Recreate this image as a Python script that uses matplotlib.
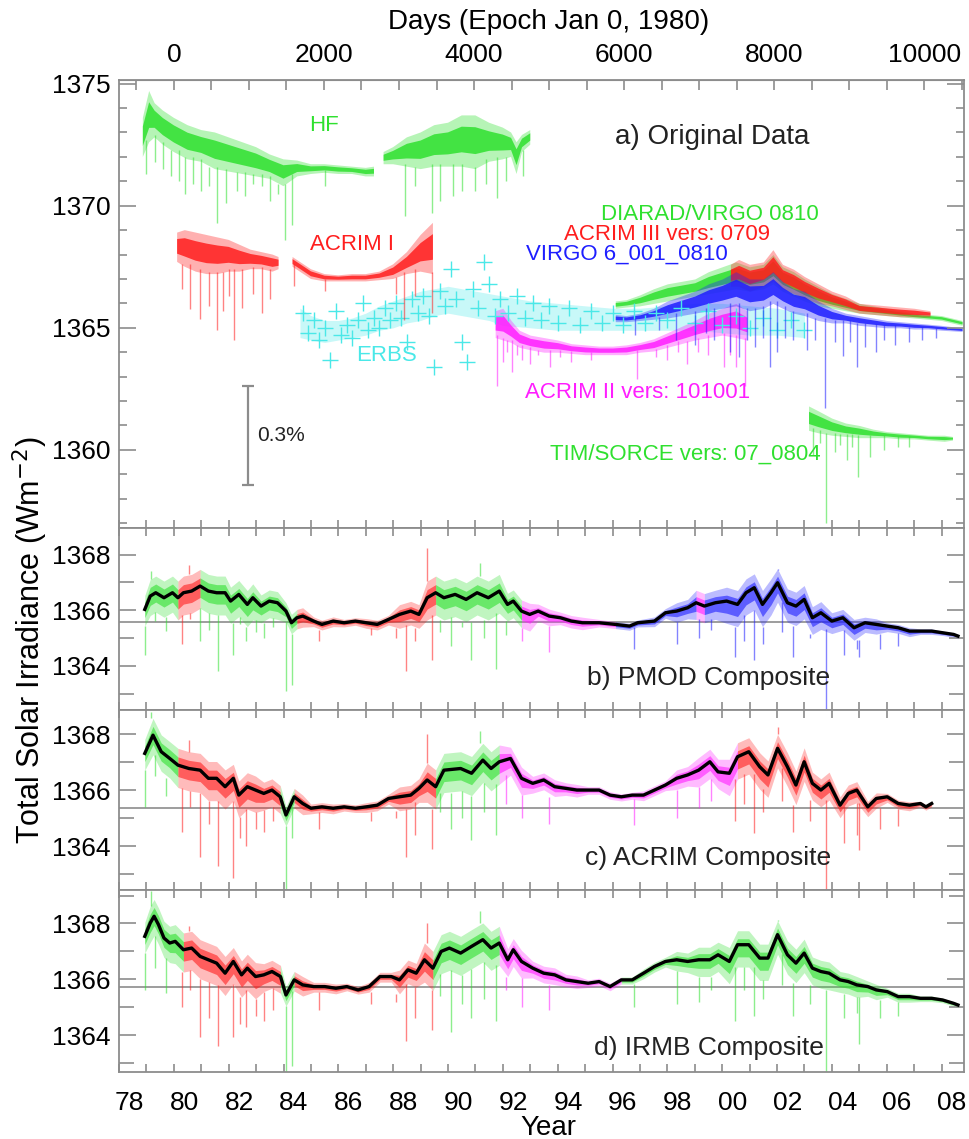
import numpy as np
import matplotlib
matplotlib.use("Agg")
import matplotlib.pyplot as plt
from matplotlib.ticker import MultipleLocator, FixedLocator

plt.rcParams['font.family'] = ['Liberation Sans', 'DejaVu Sans']

GREEN = '#2fe02f'
RED = '#ff1e1e'
BLUE = '#1e1eff'
MAGENTA = '#ff1eff'
CYAN = '#4ae8e8'
GRAY = '#8c8c8c'

# ---------------- panel a: original records (year, lower edge, upper edge) ----------------
hf_years = [1978.87, 1979.1, 1979.3, 1979.6, 1980.0, 1980.5, 1981.0, 1981.5, 1982.0, 1982.5,
            1983.0, 1983.5, 1984.0, 1984.5, 1985.0, 1985.5, 1986.0, 1986.5, 1987.0, 1987.3,
            1987.45,
            1987.65, 1988.0, 1988.5, 1989.0, 1989.5, 1990.0, 1990.5, 1991.0, 1991.5, 1992.0,
            1992.3, 1992.5, 1992.7, 1993.0]
hf_lo = [1372.0, 1372.6, 1372.8, 1372.5, 1372.2, 1371.9, 1371.8, 1371.5, 1371.4, 1371.3,
         1371.2, 1371.1, 1370.8, 1371.2, 1371.3, 1371.35, 1371.3, 1371.3, 1371.2, 1371.2,
         np.nan,
         1371.7, 1371.7, 1371.6, 1371.5, 1371.6, 1371.6, 1371.6, 1371.5, 1371.8, 1371.9,
         1372.0, 1371.3, 1372.2, 1372.5]
hf_hi = [1373.6, 1374.7, 1374.2, 1373.9, 1373.6, 1373.3, 1373.1, 1373.0, 1372.8, 1372.6,
         1372.4, 1372.1, 1371.9, 1371.85, 1371.7, 1371.7, 1371.65, 1371.6, 1371.55, 1371.6,
         np.nan,
         1372.2, 1372.4, 1372.8, 1373.0, 1373.3, 1373.4, 1373.7, 1373.7, 1373.4, 1373.2,
         1373.0, 1372.6, 1372.9, 1373.1]
hf_dip_years = [1979.0, 1979.3, 1979.6, 1979.9, 1980.2, 1980.4, 1980.7, 1981.0, 1981.3,
                1981.57, 1981.9, 1982.3, 1982.6, 1982.9, 1983.2, 1983.5, 1983.8, 1984.07,
                1984.3, 1985.5, 1988.44, 1988.8, 1989.41, 1989.7, 1990.2, 1990.5, 1991.0,
                1991.4, 1991.78, 1992.1, 1992.75]
hf_dip_vals = [1371.3, 1371.8, 1371.5, 1371.2, 1371.0, 1370.5, 1370.9, 1370.6, 1370.8,
               1369.3, 1370.1, 1370.6, 1370.4, 1370.9, 1370.8, 1370.2, 1370.5, 1368.6,
               1369.2, 1370.8, 1369.56, 1370.8, 1369.7, 1370.2, 1370.4, 1370.6, 1370.6,
               1370.9, 1370.3, 1371.0, 1371.2]

acrim1_years = [1980.12, 1980.4, 1980.8, 1981.2, 1981.6, 1982.0, 1982.4, 1982.8, 1983.2,
                1983.6, 1983.82, 1984.0,
                1984.33, 1984.6, 1985.0, 1985.5, 1986.0, 1986.5, 1987.0, 1987.5, 1988.0,
                1988.5, 1989.0, 1989.45]
acrim1_lo = [1367.7, 1367.5, 1367.3, 1367.2, 1367.2, 1367.3, 1367.3, 1367.4, 1367.4,
             1367.3, 1367.4, np.nan,
             1367.5, 1367.3, 1367.0, 1366.9, 1366.9, 1366.9, 1366.9, 1366.95, 1367.0,
             1367.2, 1367.3, 1367.2]
acrim1_hi = [1368.9, 1369.0, 1368.9, 1368.8, 1368.7, 1368.6, 1368.4, 1368.2, 1368.1,
             1368.0, 1367.9, np.nan,
             1367.9, 1367.7, 1367.4, 1367.2, 1367.15, 1367.2, 1367.2, 1367.3, 1367.6,
             1368.1, 1368.8, 1369.3]
acrim1_dip_years = [1980.3, 1980.6, 1980.97, 1981.3, 1981.57, 1981.8, 1982.0, 1982.18,
                    1982.5, 1982.9, 1983.2, 1983.5, 1984.4, 1985.5, 1988.1, 1988.4, 1988.8,
                    1989.4]
acrim1_dip_vals = [1366.6, 1365.75, 1365.35, 1365.9, 1364.9, 1365.7, 1366.3, 1364.5,
                   1365.8, 1366.4, 1365.6, 1366.2, 1366.7, 1366.5, 1366.4, 1365.3, 1366.3,
                   1365.6]

erbs_years = [1984.7, 1984.9, 1985.1, 1985.3, 1985.5, 1985.7, 1985.9, 1986.1, 1986.3, 1986.5,
              1986.7, 1986.9, 1987.1, 1987.3, 1987.5, 1987.7, 1987.9, 1988.1, 1988.3, 1988.5,
              1988.7, 1988.9, 1989.1, 1989.3, 1989.5, 1989.7, 1989.9, 1990.1, 1990.3, 1990.5,
              1990.7, 1990.9, 1991.1, 1991.3, 1991.5, 1991.7, 1991.9, 1992.2, 1992.5, 1992.8,
              1993.1, 1993.4, 1993.7, 1994.0, 1994.4, 1994.8, 1995.2, 1995.6, 1996.0, 1996.4,
              1996.8, 1997.2, 1997.6, 1998.0, 1998.5, 1999.0, 1999.5, 2000.0, 2000.5, 2001.0,
              2001.5, 2002.0, 2002.5, 2003.0]
erbs_vals = [1365.6, 1364.8, 1365.3, 1364.5, 1365.0, 1363.7, 1365.7, 1364.7, 1365.1, 1364.6,
             1365.3, 1366.0, 1364.9, 1365.4, 1365.0, 1365.8, 1365.3, 1366.0, 1365.4, 1364.4,
             1366.2, 1365.6, 1366.3, 1365.5, 1363.4, 1366.5, 1365.9, 1367.4, 1366.2, 1364.4,
             1363.6, 1366.6, 1365.8, 1367.7, 1366.8, 1365.5, 1366.2, 1365.6, 1366.3, 1365.4,
             1366.0, 1365.3, 1365.9, 1365.2, 1365.8, 1365.1, 1365.7, 1365.2, 1365.6, 1365.1,
             1365.7, 1365.2, 1365.6, 1365.3, 1365.8, 1365.2, 1365.7, 1365.1, 1365.5, 1365.0,
             1365.4, 1364.9, 1365.3, 1364.9]
erbs_band_years = [1984.6, 1985.0, 1985.5, 1986.0, 1986.5, 1987.0, 1987.5, 1988.0, 1988.5,
                   1989.0, 1989.5, 1990.0, 1990.5, 1991.0, 1991.5, 1992.0, 1993.0, 1994.0,
                   1995.0, 1996.0, 1997.0, 1998.0, 1999.0, 2000.0, 2001.0, 2002.0, 2003.0]
erbs_lo = [1364.6, 1364.5, 1364.4, 1364.5, 1364.6, 1364.7, 1364.9, 1365.0, 1365.2,
           1365.3, 1365.5, 1365.6, 1365.5, 1365.4, 1365.3, 1365.1, 1365.0, 1364.9,
           1364.9, 1364.9, 1364.9, 1364.9, 1364.9, 1364.8, 1364.7, 1364.7, 1364.6]
erbs_hi = [1365.8, 1365.5, 1365.3, 1365.3, 1365.4, 1365.6, 1365.9, 1366.1, 1366.3,
           1366.5, 1366.6, 1366.7, 1366.6, 1366.5, 1366.4, 1366.3, 1366.1, 1366.0,
           1365.9, 1365.8, 1365.8, 1365.9, 1366.0, 1366.0, 1365.9, 1365.8, 1365.6]

acrim2_years = [1991.72, 1992.0, 1992.3, 1992.6, 1993.0, 1993.5, 1994.0, 1994.5, 1995.0,
                1995.5, 1996.0, 1996.5, 1997.0, 1997.5, 1998.0, 1998.5, 1999.0, 1999.5,
                2000.0, 2000.5, 2000.9]
acrim2_lo = [1364.6, 1364.5, 1364.4, 1364.2, 1364.1, 1364.0, 1364.0, 1363.95, 1363.9,
             1363.9, 1363.9, 1363.9, 1364.0, 1364.05, 1364.2, 1364.35, 1364.5, 1364.6,
             1364.7, 1364.6, 1364.5]
acrim2_hi = [1365.7, 1365.8, 1365.3, 1364.9, 1364.7, 1364.6, 1364.5, 1364.35, 1364.3,
             1364.25, 1364.25, 1364.3, 1364.4, 1364.55, 1364.8, 1365.05, 1365.3, 1365.6,
             1365.8, 1366.0, 1365.7]
acrim2_dip_years = [1991.78, 1992.0, 1992.15, 1992.33, 1992.5, 1992.7, 1993.0, 1993.3,
                    1993.73, 1994.1, 1994.5, 1995.2, 1996.89, 1997.6, 1998.0, 1998.4,
                    1998.7, 1999.1, 1999.5, 2000.05, 2000.3, 2000.5, 2000.85]
acrim2_dip_vals = [1362.6, 1363.6, 1364.0, 1363.2, 1363.9, 1363.7, 1363.5, 1363.9,
                   1363.4, 1363.8, 1363.6, 1363.7, 1362.9, 1363.8, 1363.7, 1364.0,
                   1363.5, 1364.0, 1363.9, 1363.4, 1363.9, 1363.4, 1362.6]

virgo_years = [1996.1, 1996.5, 1997.0, 1997.5, 1998.0, 1998.5, 1999.0, 1999.5, 2000.0,
               2000.5, 2001.0, 2001.5, 2001.85, 2002.2, 2002.6, 2003.0, 2003.5, 2004.0,
               2004.5, 2005.0, 2005.5, 2006.0, 2006.5, 2007.0, 2007.5, 2008.0, 2008.75]
virgo_lo = [1365.25, 1365.25, 1365.3, 1365.35, 1365.4, 1365.5, 1365.6, 1365.7, 1365.8,
            1365.9, 1365.7, 1365.8, 1366.0, 1365.8, 1365.6, 1365.5, 1365.3, 1365.2,
            1365.2, 1365.1, 1365.05, 1365.0, 1365.0, 1364.95, 1364.95, 1364.9, 1364.85]
virgo_hi = [1365.55, 1365.5, 1365.6, 1365.8, 1366.1, 1366.3, 1366.5, 1366.8, 1367.0,
            1367.3, 1367.0, 1367.0, 1367.3, 1366.9, 1366.6, 1366.5, 1366.1, 1365.8,
            1365.6, 1365.5, 1365.4, 1365.3, 1365.25, 1365.2, 1365.15, 1365.1, 1365.0]
virgo_dip_years = [1996.83, 1997.7, 1998.3, 1999.0, 1999.4, 1999.7, 2000.3, 2000.6, 2000.9,
                   2001.2, 2001.5, 2001.75, 2002.0, 2002.3, 2002.6, 2003.1, 2003.4, 2003.75,
                   2004.1, 2004.42, 2004.65, 2004.9, 2005.2, 2005.6, 2005.9, 2006.3, 2006.8,
                   2007.3, 2007.8]
virgo_dip_vals = [1364.7, 1364.9, 1364.5, 1364.3, 1364.8, 1364.5, 1364.0, 1363.8, 1364.5,
                  1364.2, 1364.6, 1363.4, 1364.0, 1364.6, 1364.5, 1364.1, 1364.5, 1361.7,
                  1364.4, 1363.85, 1364.4, 1363.4, 1364.2, 1364.0, 1364.5, 1364.3, 1364.4,
                  1364.5, 1364.6]

diarad_years = virgo_years
diarad_lo = [1365.8, 1365.85, 1365.9, 1366.0, 1366.1, 1366.2, 1366.3, 1366.4, 1366.5,
             1366.6, 1366.5, 1366.6, 1366.8, 1366.5, 1366.3, 1366.1, 1365.9, 1365.8,
             1365.7, 1365.6, 1365.55, 1365.5, 1365.45, 1365.4, 1365.35, 1365.3, 1365.1]
diarad_hi = [1366.1, 1366.15, 1366.35, 1366.6, 1366.8, 1366.9, 1367.0, 1367.3, 1367.5,
             1367.7, 1367.5, 1367.6, 1368.0, 1367.5, 1367.3, 1367.0, 1366.7, 1366.4,
             1366.2, 1366.0, 1365.9, 1365.8, 1365.7, 1365.6, 1365.55, 1365.5, 1365.3]

acrim3_years = [2000.3, 2000.6, 2001.0, 2001.5, 2001.85, 2002.2, 2002.6, 2003.0, 2003.5,
                2004.0, 2004.5, 2005.0, 2005.5, 2006.0, 2006.5, 2007.0, 2007.58]
acrim3_lo = [1366.7, 1366.7, 1366.5, 1366.7, 1366.9, 1366.6, 1366.4, 1366.2, 1366.0,
             1365.9, 1365.75, 1365.6, 1365.55, 1365.5, 1365.45, 1365.45, 1365.45]
acrim3_hi = [1367.6, 1367.8, 1367.6, 1367.7, 1368.2, 1367.6, 1367.4, 1367.1, 1366.8,
             1366.5, 1366.3, 1366.0, 1365.95, 1365.9, 1365.85, 1365.8, 1365.7]

tim_years = [2003.15, 2003.5, 2004.0, 2004.5, 2005.0, 2005.5, 2006.0, 2006.5, 2007.0,
             2007.5, 2008.1, 2008.4]
tim_lo = [1360.8, 1360.7, 1360.6, 1360.55, 1360.5, 1360.5, 1360.5, 1360.45, 1360.45,
          1360.4, 1360.35, 1360.4]
tim_hi = [1361.8, 1361.6, 1361.3, 1361.1, 1361.0, 1360.85, 1360.75, 1360.7, 1360.65,
          1360.6, 1360.6, 1360.55]
tim_dip_years = [2003.3, 2003.55, 2003.79, 2004.1, 2004.3, 2004.54, 2004.75, 2004.97, 2005.4,
                 2005.9, 2006.4, 2006.8]
tim_dip_vals = [1359.8, 1360.3, 1357.0, 1359.9, 1360.2, 1359.6, 1360.1, 1358.9, 1359.7,
                1360.0, 1360.1, 1360.1]

# ---------------- composites (81-day means) ----------------
pmod_years = [1978.94, 1979.14, 1979.34, 1979.64, 1979.95, 1980.15, 1980.35, 1980.65, 1980.96,
              1981.26, 1981.56, 1981.87, 1982.07, 1982.37, 1982.68, 1982.88, 1983.18, 1983.48,
              1983.78, 1984.09, 1984.29, 1984.49, 1984.70, 1985.10, 1985.40, 1985.81, 1986.21,
              1986.62, 1987.02, 1987.42, 1987.83, 1988.23, 1988.64, 1988.94, 1989.24, 1989.55,
              1989.85, 1990.26, 1990.66, 1991.06, 1991.47, 1991.87, 1992.17, 1992.38, 1992.68,
              1992.98, 1993.29, 1993.69, 1994.10, 1994.50, 1994.90, 1995.51, 1996.11, 1996.62,
              1996.92, 1997.53, 1997.93, 1998.34, 1998.74, 1999.05, 1999.35, 1999.75, 2000.16,
              2000.56, 2000.87, 2001.17, 2001.47, 2001.78, 2002.02, 2002.38, 2002.69, 2002.99,
              2003.29, 2003.60, 2004.00, 2004.40, 2004.81, 2005.21, 2005.62, 2006.02, 2006.42,
              2006.83, 2007.23, 2007.64, 2008.04, 2008.44, 2008.60]
pmod_vals = [1366.03, 1366.51, 1366.63, 1366.45, 1366.63, 1366.45, 1366.63, 1366.69, 1366.87,
             1366.69, 1366.63, 1366.63, 1366.33, 1366.57, 1366.21, 1366.45, 1366.15, 1366.33,
             1366.27, 1365.97, 1365.55, 1365.73, 1365.79, 1365.61, 1365.49, 1365.61, 1365.55,
             1365.61, 1365.55, 1365.49, 1365.67, 1365.85, 1365.97, 1365.85, 1366.45, 1366.63,
             1366.45, 1366.57, 1366.39, 1366.63, 1366.45, 1366.69, 1366.21, 1366.33, 1365.97,
             1365.85, 1365.97, 1365.79, 1365.73, 1365.61, 1365.55, 1365.55, 1365.49, 1365.43,
             1365.55, 1365.61, 1365.91, 1365.97, 1366.09, 1366.27, 1366.15, 1366.27, 1366.33,
             1366.21, 1366.63, 1366.81, 1366.21, 1366.63, 1366.99, 1366.27, 1366.15, 1366.39,
             1365.73, 1365.91, 1365.61, 1365.73, 1365.37, 1365.55, 1365.49, 1365.43, 1365.37,
             1365.25, 1365.25, 1365.25, 1365.19, 1365.13, 1365.07]

acrim_years = [1978.94, 1979.24, 1979.54, 1979.85, 1980.15, 1980.55, 1980.96, 1981.26, 1981.56,
               1981.87, 1982.17, 1982.37, 1982.68, 1982.98, 1983.28, 1983.58, 1983.88, 1984.09,
               1984.39, 1984.70, 1985.0, 1985.4, 1985.81, 1986.21, 1986.62, 1987.02, 1987.42,
               1987.83, 1988.23, 1988.64, 1988.94, 1989.24, 1989.55, 1989.85, 1990.46, 1990.86,
               1991.27, 1991.57, 1991.87, 1992.28, 1992.68, 1993.09, 1993.49, 1993.89, 1994.30,
               1994.70, 1995.11, 1995.51, 1995.91, 1996.32, 1996.72, 1997.13, 1997.53, 1997.93,
               1998.34, 1998.74, 1999.14, 1999.55, 1999.85, 2000.26, 2000.56, 2000.97, 2001.37,
               2001.67, 2002.02, 2002.38, 2002.69, 2002.99, 2003.29, 2003.60, 2003.90, 2004.30,
               2004.60, 2004.91, 2005.31, 2005.62, 2006.02, 2006.42, 2006.83, 2007.23, 2007.43,
               2007.64]
acrim_vals = [1367.31, 1367.96, 1367.37, 1367.13, 1366.89, 1366.77, 1366.71, 1366.42, 1366.42,
              1366.12, 1366.42, 1365.82, 1366.12, 1366.0, 1365.88, 1366.0, 1365.76, 1365.11,
              1365.76, 1365.52, 1365.35, 1365.40, 1365.35, 1365.40, 1365.35, 1365.40, 1365.46,
              1365.70, 1365.76, 1365.82, 1366.06, 1366.36, 1366.12, 1366.71, 1366.77, 1366.60,
              1367.07, 1366.77, 1367.01, 1367.13, 1366.42, 1366.24, 1366.36, 1366.12, 1366.06,
              1366.0, 1366.0, 1366.0, 1365.82, 1365.76, 1365.82, 1365.82, 1366.0, 1366.18,
              1366.42, 1366.54, 1366.71, 1367.01, 1366.65, 1366.60, 1367.19, 1367.37, 1366.83,
              1366.54, 1367.49, 1366.83, 1366.18, 1367.01, 1366.24, 1366.0, 1366.24, 1365.46,
              1365.88, 1366.0, 1365.40, 1365.70, 1365.76, 1365.52, 1365.46, 1365.52, 1365.40,
              1365.52]

irmb_years = [1978.94, 1979.14, 1979.28, 1979.44, 1979.64, 1979.85, 1980.05, 1980.35, 1980.65,
              1980.96, 1981.26, 1981.56, 1981.87, 1982.17, 1982.47, 1982.68, 1982.98, 1983.28,
              1983.58, 1983.89, 1984.09, 1984.39, 1984.70, 1985.10, 1985.50, 1985.91, 1986.31,
              1986.72, 1987.12, 1987.52, 1987.93, 1988.23, 1988.54, 1988.84, 1989.14, 1989.45,
              1989.75, 1990.05, 1990.46, 1990.86, 1991.27, 1991.57, 1991.87, 1992.18, 1992.38,
              1992.68, 1993.09, 1993.49, 1993.89, 1994.30, 1994.70, 1995.11, 1995.51, 1995.91,
              1996.32, 1996.72, 1997.13, 1997.53, 1997.93, 1998.34, 1998.74, 1999.14, 1999.55,
              1999.85, 2000.26, 2000.56, 2000.97, 2001.37, 2001.67, 2002.02, 2002.38, 2002.69,
              2002.99, 2003.29, 2003.60, 2003.90, 2004.30, 2004.60, 2004.91, 2005.31, 2005.62,
              2006.02, 2006.42, 2006.83, 2007.23, 2007.64, 2008.04, 2008.44, 2008.60]
irmb_vals = [1367.54, 1368.02, 1368.26, 1367.96, 1367.48, 1367.30, 1367.36, 1367.06, 1367.12,
             1366.82, 1366.70, 1366.58, 1366.22, 1366.64, 1366.16, 1366.40, 1366.10, 1366.16,
             1366.28, 1366.10, 1365.44, 1365.98, 1365.80, 1365.74, 1365.74, 1365.68, 1365.74,
             1365.62, 1365.74, 1366.10, 1366.10, 1365.98, 1366.34, 1366.22, 1366.70, 1366.40,
             1367.00, 1367.12, 1366.94, 1367.18, 1367.42, 1367.12, 1367.30, 1366.70, 1367.06,
             1366.64, 1366.40, 1366.22, 1366.16, 1365.98, 1365.92, 1365.86, 1365.92, 1365.74,
             1365.98, 1365.98, 1366.22, 1366.46, 1366.64, 1366.70, 1366.64, 1366.70, 1366.70,
             1366.88, 1366.64, 1367.24, 1367.24, 1366.76, 1366.76, 1367.60, 1366.88, 1366.58,
             1366.94, 1366.40, 1366.28, 1366.22, 1365.98, 1365.92, 1365.80, 1365.74, 1365.62,
             1365.56, 1365.38, 1365.38, 1365.32, 1365.32, 1365.26, 1365.14, 1365.08]

# spread of the daily values around the mean, per calendar year 1978..2008
act_up = [0.5, 0.6, 0.6, 0.6, 0.5, 0.4, 0.3, 0.15, 0.12, 0.15, 0.35, 0.6, 0.6, 0.6, 0.4, 0.25,
          0.2, 0.12, 0.1, 0.15, 0.3, 0.45, 0.5, 0.5, 0.5, 0.4, 0.3, 0.2, 0.12, 0.08, 0.06]
act_dn = [0.6, 0.7, 0.8, 0.8, 0.8, 0.6, 0.4, 0.2, 0.15, 0.2, 0.5, 0.8, 0.8, 0.8, 0.6, 0.35,
          0.25, 0.15, 0.15, 0.2, 0.4, 0.6, 0.8, 0.8, 0.7, 0.6, 0.45, 0.35, 0.2, 0.12, 0.1]

# sunspot dips, same events in every composite
dip_years = [1978.95, 1979.7, 1980.3, 1980.95, 1981.6, 1982.15, 1982.65, 1983.3, 1984.1, 1984.3,
             1985.3, 1987.2, 1988.45, 1989.4, 1990.1, 1990.85, 1991.75, 1992.7, 1993.7, 1996.8,
             1998.35, 1999.15, 2000.45, 2001.15, 2002.6, 2003.8, 2004.45, 2005.0, 2005.75, 2006.4,
             1979.3, 1980.6, 1981.3, 1982.4, 1983.0, 1983.6, 1988.1, 1988.8, 1989.7, 1990.5,
             1991.3, 1992.1, 1999.6, 2000.8, 2001.5, 2002.2, 2003.2, 2004.9]
pmod_dips = [1364.4, 1365.25, 1364.8, 1364.9, 1363.8, 1364.4, 1364.9, 1365.0, 1363.1, 1363.3,
             1364.9, 1365.1, 1363.8, 1364.2, 1364.7, 1364.2, 1363.9, 1364.9, 1364.5, 1364.6,
             1364.8, 1365.0, 1364.3, 1364.2, 1364.3, 1362.0, 1364.4, 1364.3, 1364.6, 1364.7,
             1365.6, 1365.7, 1365.3, 1365.5, 1365.2, 1365.4, 1365.0, 1364.9, 1365.2, 1365.4,
             1365.0, 1365.1, 1365.3, 1364.9, 1364.8, 1365.2, 1365.0, 1364.6]
acrim_dips = [1365.4, 1365.8, 1364.5, 1363.6, 1363.3, 1362.85, 1364.0, 1364.5, 1362.0, 1364.3,
              1364.6, 1364.9, 1363.6, 1363.9, 1364.6, 1364.2, 1364.4, 1365.0, 1364.8, 1364.75,
              1365.0, 1365.35, 1364.9, 1364.45, 1364.5, 1362.0, 1364.1, 1363.85, 1364.6, 1364.7,
              1366.5, 1365.4, 1364.8, 1364.3, 1364.6, 1364.9, 1365.0, 1364.4, 1365.2, 1365.0,
              1365.2, 1365.5, 1365.6, 1365.5, 1365.2, 1365.6, 1364.9, 1364.4]
irmb_dips = [1365.6, 1365.5, 1365.0, 1363.94, 1363.6, 1363.94, 1364.3, 1364.5, 1362.0, 1362.9,
             1364.9, 1365.1, 1363.8, 1364.2, 1364.1, 1364.6, 1364.5, 1365.0, 1364.9, 1365.0,
             1365.1, 1365.2, 1364.5, 1364.7, 1364.7, 1362.0, 1364.6, 1363.7, 1364.6, 1364.7,
             1366.4, 1365.6, 1364.6, 1364.4, 1364.7, 1364.9, 1365.2, 1364.6, 1365.4, 1365.1,
             1365.3, 1365.6, 1365.6, 1365.6, 1365.3, 1365.8, 1365.1, 1364.8]
peak_years = [1979.15, 1980.55, 1989.25, 1991.15, 2002.05]
pmod_peaks = [1367.4, 1367.64, 1368.24, 1367.7, 1367.46]
acrim_peaks = [1368.8, 1367.8, 1368.0, 1368.1, 1368.26]
irmb_peaks = [1369.17, 1367.9, 1368.0, 1368.44, 1368.14]

pmod_segments = [(1978.9, 1980.1, GREEN), (1980.1, 1980.9, RED), (1980.9, 1984.3, GREEN),
                 (1984.3, 1989.45, RED), (1989.45, 1992.5, GREEN), (1992.5, 1996.1, MAGENTA),
                 (1996.1, 1998.75, BLUE), (1998.75, 1999.1, MAGENTA), (1999.1, 2008.7, BLUE)]
acrim_segments = [(1978.9, 1980.15, GREEN), (1980.15, 1983.85, RED), (1983.85, 1984.35, GREEN),
                  (1984.35, 1989.5, RED), (1989.5, 1991.75, GREEN), (1991.75, 2000.35, MAGENTA),
                  (2000.35, 2007.7, RED)]
irmb_segments = [(1978.9, 1980.15, GREEN), (1980.15, 1983.85, RED), (1983.85, 1984.35, GREEN),
                 (1984.35, 1989.4, RED), (1989.4, 1991.75, GREEN), (1991.75, 1996.0, MAGENTA),
                 (1996.0, 2008.7, GREEN)]
ref_levels = [1365.59, 1365.37, 1365.72]


def year_to_day(y):
    return (y - 1980.0) * 365.25


def day_to_year(d):
    return 1980.0 + d / 365.25


def style_axis(ax, ylim, major, big_minor):
    ax.set_xlim(1978.0, 2008.82)
    ax.set_ylim(*ylim)
    for s in ax.spines.values():
        s.set_color(GRAY)
        s.set_linewidth(1.3)
    ax.xaxis.set_major_locator(FixedLocator([y + 0.38 for y in range(1978, 2009, 2)]))
    ax.xaxis.set_minor_locator(MultipleLocator(1))
    ax.yaxis.set_major_locator(MultipleLocator(major))
    ax.yaxis.set_minor_locator(MultipleLocator(1))
    ax.tick_params(axis='x', which='major', length=0, labelbottom=False)
    ax.tick_params(axis='x', which='minor', direction='in', length=6, width=1.2,
                   color=GRAY, top=True, bottom=True)
    ax.tick_params(axis='y', which='major', direction='in', length=12, width=1.2,
                   color=GRAY, right=True, labelsize=19, pad=6)
    ax.tick_params(axis='y', which='minor', direction='in',
                   length=11 if big_minor else 6, width=1.2, color=GRAY, right=True)


def seg_color(segments, yr):
    for a, b, c in segments:
        if a <= yr <= b:
            return c
    return segments[-1][2]


def fill_layers(ax, x, lo, hi, color, alpha=0.35, core=0.85):
    # faint outer band plus a denser core, like overplotted daily values
    lo = np.asarray(lo, dtype=float)
    hi = np.asarray(hi, dtype=float)
    span = hi - lo
    ax.fill_between(x, lo, hi, color=color, alpha=alpha, lw=0)
    ax.fill_between(x, lo + 0.28 * span, hi - 0.22 * span, color=color, alpha=core, lw=0)


def draw_record(ax, years, lo, hi, color, dips=None, alpha=0.35):
    fill_layers(ax, years, lo, hi, color, alpha=alpha)
    if dips is not None:
        years = np.array(years)
        lo = np.array(lo)
        for yr, v in zip(*dips):
            i = np.nanargmin(np.abs(years - yr) + np.isnan(lo) * 99)
            ax.vlines(yr, v, lo[i] + 0.1, color=color, lw=1.0, alpha=0.55)


def draw_composite(ax, years, vals, segments, dips, peaks):
    years = np.array(years)
    vals = np.array(vals)
    k = years.astype(int) - 1978
    hi = vals + np.array(act_up)[k]
    lo = vals - np.array(act_dn)[k]
    for a, b, c in segments:
        idx = np.where((years >= a) & (years < b))[0]
        if len(idx) == 0:
            continue
        sl = slice(idx[0], min(idx[-1] + 2, len(years)))
        fill_layers(ax, years[sl], lo[sl], hi[sl], c, alpha=0.3, core=0.6)
    for yr, v in zip(dip_years, dips):
        if yr > years[-1]:
            continue
        i = np.abs(years - yr).argmin()
        ax.vlines(yr, v, lo[i], color=seg_color(segments, yr), lw=1.0, alpha=0.55)
    for yr, v in zip(peak_years, peaks):
        i = np.abs(years - yr).argmin()
        ax.vlines(yr, hi[i], v, color=seg_color(segments, yr), lw=1.0, alpha=0.55)
    ax.plot(years, vals, color='black', lw=2.4, zorder=5)


fig = plt.figure(figsize=(9.69, 11.39), dpi=100)
L, W = 119 / 969, 845 / 969
H = 1139.0
ax_a = fig.add_axes([L, 1 - 528 / H, W, 448 / H])
ax_b = fig.add_axes([L, 1 - 710 / H, W, 182 / H])
ax_c = fig.add_axes([L, 1 - 890 / H, W, 180 / H])
ax_d = fig.add_axes([L, 1 - 1072 / H, W, 182 / H])

# ---- panel a ----
style_axis(ax_a, (1356.8, 1375.15), 5, False)
ax_a.tick_params(axis='x', which='minor', top=False)
ax_a.set_yticks([1360, 1365, 1370, 1375])
ax_a.fill_between(erbs_band_years, erbs_lo, erbs_hi, color=CYAN, alpha=0.3, lw=0)
ax_a.plot(erbs_years, erbs_vals, ls='none', marker='+', ms=12, mew=1.0, color=CYAN)
draw_record(ax_a, hf_years, hf_lo, hf_hi, GREEN, (hf_dip_years, hf_dip_vals))
draw_record(ax_a, acrim1_years, acrim1_lo, acrim1_hi, RED, (acrim1_dip_years, acrim1_dip_vals))
draw_record(ax_a, acrim2_years, acrim2_lo, acrim2_hi, MAGENTA, (acrim2_dip_years, acrim2_dip_vals))
draw_record(ax_a, diarad_years, diarad_lo, diarad_hi, GREEN)
draw_record(ax_a, acrim3_years, acrim3_lo, acrim3_hi, RED)
draw_record(ax_a, virgo_years, virgo_lo, virgo_hi, BLUE, (virgo_dip_years, virgo_dip_vals))
draw_record(ax_a, tim_years, tim_lo, tim_hi, GREEN, (tim_dip_years, tim_dip_vals))

# 0.3% scale bar
ax_a.vlines(1982.72, 1358.57, 1362.61, color=GRAY, lw=1.6)
ax_a.plot([1982.72, 1982.72], [1358.57, 1362.61], ls='none', marker='_', ms=8, mew=1.6, color=GRAY)
ax_a.text(1983.05, 1360.6, '0.3%', fontsize=15, va='center', ha='left', color='#222222')

lab = dict(fontsize=16, ha='center', va='center')
ax_a.text(1985.49, 1373.27, 'HF', color=GREEN, **lab)
ax_a.text(1986.5, 1368.41, 'ACRIM I', color=RED, **lab)
ax_a.text(1987.74, 1363.85, 'ERBS', color=CYAN, **lab)
ax_a.text(1999.56, 1369.63, 'DIARAD/VIRGO 0810', color=GREEN, **lab)
ax_a.text(1997.98, 1368.82, 'ACRIM III vers: 0709', color=RED, **lab)
ax_a.text(1996.53, 1368.0, 'VIRGO 6_001_0810', color=BLUE, **lab)
ax_a.text(1996.93, 1362.37, 'ACRIM II vers: 101001', color=MAGENTA, **lab)
ax_a.text(1998.65, 1359.84, 'TIM/SORCE vers: 07_0804', color=GREEN, **lab)
ax_a.text(1999.63, 1372.8, 'a) Original Data', color='#222222', fontsize=20,
          ha='center', va='center')

sec = ax_a.secondary_xaxis('top', functions=(year_to_day, day_to_year))
sec.set_xticks(range(0, 10001, 2000))
sec.xaxis.set_minor_locator(MultipleLocator(500))
sec.tick_params(which='both', direction='in', length=7, width=1.2, color=GRAY,
                labelsize=19, pad=9)
sec.spines['top'].set_color(GRAY)

# ---- composites ----
panels = [(ax_b, (1362.41, 1368.96), pmod_years, pmod_vals, pmod_segments, pmod_dips,
           pmod_peaks, 'b) PMOD Composite', 1363.56),
          (ax_c, (1362.43, 1368.86), acrim_years, acrim_vals, acrim_segments, acrim_dips,
           acrim_peaks, 'c) ACRIM Composite', 1363.57),
          (ax_d, (1362.68, 1369.2), irmb_years, irmb_vals, irmb_segments, irmb_dips,
           irmb_peaks, 'd) IRMB Composite', 1363.53)]
for (ax, ylim, yrs, vals, segs, dips, peaks, title, ty), ref in zip(panels, ref_levels):
    style_axis(ax, ylim, 2, True)
    ax.set_yticks([1364, 1366, 1368])
    ax.axhline(ref, color=GRAY, lw=1.2, zorder=1)
    draw_composite(ax, yrs, vals, segs, dips, peaks)
    ax.text(1999.5, ty, title, fontsize=19, ha='center', va='center', color='#222222')

ax_d.tick_params(axis='x', which='major', labelbottom=True, labelsize=19, pad=14)
ax_d.set_xticklabels(['%02d' % (y % 100) for y in range(1978, 2009, 2)])

fig.text(0.566, 0.981, 'Days (Epoch Jan 0, 1980)', fontsize=20, ha='center', va='center')
fig.text(0.566, 0.010, 'Year', fontsize=20, ha='center', va='center')
fig.text(0.031, 0.438, 'Total Solar Irradiance (Wm$^{-2}$)', fontsize=22, rotation=90,
         ha='center', va='center', family=['Liberation Sans Narrow', 'Liberation Sans'])

fig.savefig('out.png', dpi=100)
